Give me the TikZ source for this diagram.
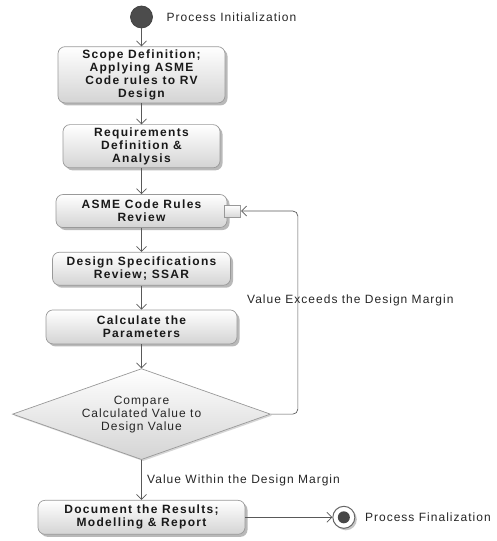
\documentclass[tikz,border=0pt]{standalone}
\usepackage{fontspec}
\setmainfont{Liberation Sans}[LetterSpace=8.5,BoldFeatures={LetterSpace=11}]
\usetikzlibrary{positioning,shapes.geometric,shadows,arrows.meta}

\begin{document}
\begin{tikzpicture}[x=1pt,y=1pt,>={Straight Barb[length=5pt,width=10pt]},
  line width=0.7pt, draw=black!65,
  activity/.style={rectangle, rounded corners=7pt, draw=black!40, top color=white, bottom color=black!17,
    drop shadow={shadow xshift=2.5pt, shadow yshift=-2.5pt, fill=black!50, opacity=.55},
    align=center, inner ysep=3pt, minimum height=34pt, text=black!90,
    font=\bfseries\fontsize{12}{13}\selectfont},
  decision/.style={diamond, shape aspect=2.84, draw=black!40, top color=white, bottom color=black!17,
    drop shadow={shadow xshift=1.5pt, shadow yshift=-1.5pt, fill=black!40, opacity=.4},
    align=center, inner sep=0pt, minimum width=258pt, minimum height=91pt, text=black!85,
    font=\fontsize{12}{13}\selectfont},
  note/.style={font=\fontsize{12}{13}\selectfont, text=black!85},
  port/.style={rectangle, draw=black!40, top color=white, bottom color=black!15,
    minimum width=16pt, minimum height=12pt, inner sep=0pt},
  initnode/.style={circle, fill=black!70, draw=black!75, minimum size=22pt, inner sep=0pt},
  finalnode/.style={circle, fill=white, draw=black!60, line width=1pt, minimum size=22pt, inner sep=0pt,
    drop shadow={shadow xshift=2pt, shadow yshift=-2pt, fill=black!45, opacity=.5}},
  finaldot/.style={circle, fill=black!72, minimum size=12pt, inner sep=0pt}]

\useasboundingbox (0,0) rectangle (496,541);

\node[initnode]                                            (init)    at (141.5,524) {};
\node[note, right=10pt of init]                            (initlbl) {Process Initialization};
\node[activity, minimum width=167pt, below=18pt of init]   (scope)   {Scope Definition;\\Applying ASME\\Code rules to RV\\Design};
\node[activity, minimum width=157pt, below=21pt of scope]  (req)     {Requirements\\Definition \&\\Analysis};
\node[activity, minimum width=171pt, minimum height=33pt, below=26pt of req] (rules) {ASME Code Rules\\Review};
\node[port, anchor=west, xshift=-3pt]                      (port)    at (rules.east) {};
\node[activity, minimum width=178pt, minimum height=33pt, below=24pt of rules] (spec) {Design Specifications\\Review; SSAR};
\node[activity, minimum width=191pt, below=24pt of spec]   (calc)    {Calculate the\\Parameters};
\node[decision, below=24pt of calc]                        (cmp)     {Compare\\Calculated Value to\\Design Value};
\node[activity, minimum width=207pt, below=40pt of cmp]    (doc)     {Document the Results;\\Modelling \& Report};
\node[finalnode, right=87pt of doc]                        (fin)     {};
\node[finaldot]                                            (findot)  at (fin) {};
\node[note, right=6pt of fin]                              (finlbl)  {Process Finalization};

\path[->]
      (init)  edge (scope)
      (scope) edge (req)
      (req)   edge (rules)
      (rules) edge (spec)
      (spec)  edge (calc)
      (calc)  edge (cmp)
      (cmp)   edge node[note, right=2pt] (within) {Value Within the Design Margin} (doc)
      (doc)   edge (fin);

% back loop when the margin is exceeded
\draw[->, rounded corners=5pt] (cmp.east) -- ++(27,0)
      |- node[note, pos=.28, xshift=52.5pt] (exceeds) {Value Exceeds the Design Margin} (port.east);
\end{tikzpicture}
\end{document}
